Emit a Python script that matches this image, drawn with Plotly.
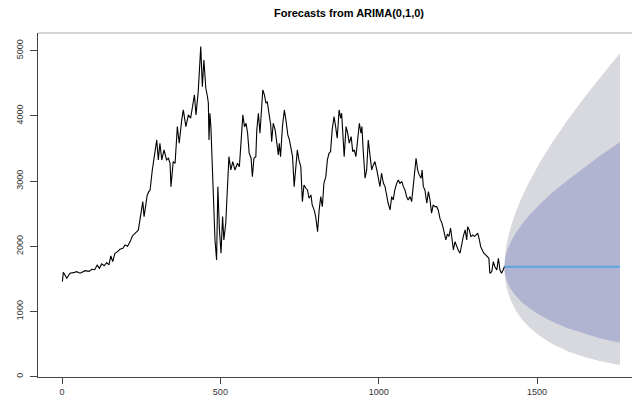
import plotly.graph_objects as go

t = [1, 4, 15, 25, 36, 46, 57, 73, 85, 94, 103, 111, 118, 125, 133, 141, 148, 154, 160, 167,
     175, 183, 192, 199, 207, 215, 222, 230, 236, 241, 246, 252, 255, 259, 263, 266, 269, 274, 278, 285,
     294, 299, 304, 309, 315, 322, 330, 336, 341, 344, 351, 357, 364, 370, 378, 383, 391, 399, 406, 413,
     418, 423, 430, 438, 443, 448, 454, 459, 462, 464, 467, 470, 476, 480, 483, 488, 492, 497, 502, 507,
     511, 517, 522, 527, 533, 539, 546, 554, 560, 565, 571, 576, 581, 586, 591, 597, 601, 606, 612, 615,
     620, 625, 631, 634, 639, 644, 648, 654, 659, 662, 667, 673, 678, 683, 686, 690, 696, 702, 707, 713,
     718, 723, 728, 733, 738, 743, 748, 754, 759, 764, 770, 775, 780, 786, 790, 796, 801, 807, 812, 817,
     822, 827, 833, 838, 843, 848, 853, 859, 864, 869, 875, 880, 883, 888, 891, 897, 902, 907, 913, 918,
     923, 928, 934, 939, 944, 947, 951, 957, 962, 967, 973, 978, 983, 988, 994, 999, 1004, 1009, 1015, 1020,
     1025, 1030, 1036, 1041, 1046, 1051, 1057, 1062, 1067, 1073, 1078, 1083, 1088, 1093, 1099, 1104, 1109, 1115, 1118, 1123,
     1128, 1134, 1137, 1141, 1146, 1152, 1157, 1162, 1167, 1172, 1178, 1183, 1188, 1194, 1199, 1204, 1209, 1212, 1217, 1222,
     1227, 1231, 1236, 1241, 1246, 1251, 1257, 1262, 1267, 1273, 1278, 1281, 1286, 1291, 1297, 1302, 1307, 1313, 1318, 1322,
     1327, 1332, 1338, 1343, 1348, 1351, 1357, 1362, 1367, 1373, 1378, 1383, 1388, 1393, 1397]
price = [1457, 1601, 1509, 1586, 1595, 1610, 1586, 1626, 1615, 1647, 1640, 1713, 1662, 1729, 1700, 1748, 1713, 1851, 1764, 1893,
         1917, 1954, 1969, 2020, 2000, 2071, 2158, 2190, 2224, 2250, 2403, 2560, 2684, 2454, 2600, 2710, 2787, 2837, 2863, 3170,
         3426, 3630, 3324, 3580, 3324, 3477, 3324, 3350, 3273, 2914, 3298, 3273, 3834, 3580, 3937, 4090, 3834, 4014, 3963, 4141,
         4320, 4014, 4371, 5061, 4448, 4857, 4423, 4300, 4193, 3630, 4040, 3834, 3120, 2557, 2097, 1790, 2914, 2250, 1893, 2454,
         2097, 2353, 2914, 3374, 3170, 3298, 3170, 3273, 3221, 3630, 4014, 3834, 3886, 3733, 3426, 3350, 3067, 3350, 3374, 3784,
         4040, 3733, 4090, 4397, 4320, 4193, 4218, 3988, 3860, 3604, 3886, 3784, 3604, 3400, 3580, 3374, 3834, 4090, 3937, 3707,
         3630, 3527, 3374, 2914, 3170, 3477, 3324, 3221, 2684, 2940, 2889, 2863, 2736, 2787, 2633, 2557, 2454, 2224, 2557, 2761,
         2607, 2966, 3067, 3324, 3426, 3451, 3784, 3988, 3834, 3656, 4090, 3963, 4040, 3630, 3374, 3834, 3733, 3580, 3681, 3451,
         3477, 3374, 3604, 3886, 3733, 3834, 3477, 3043, 3170, 3630, 3374, 3170, 3247, 3298, 3170, 3067, 2914, 3120, 2966, 2914,
         2761, 2659, 2557, 2761, 2710, 2863, 2966, 3017, 2966, 2991, 2914, 2863, 2761, 2710, 2761, 2684, 2914, 3170, 3350, 3170,
         3094, 3043, 3170, 2914, 2863, 2659, 2838, 2710, 2506, 2633, 2607, 2607, 2557, 2415, 2365, 2275, 2120, 2097, 2185, 2150,
         2280, 2148, 1943, 2071, 1994, 1943, 1893, 2046, 2148, 2250, 2097, 2301, 2250, 2148, 2173, 2148, 2173, 2199, 2097, 1994,
         1943, 1893, 1867, 1840, 1816, 1586, 1610, 1764, 1687, 1636, 1816, 1636, 1586, 1636, 1687]

# ---- forecast (horizon steps after the last observation) ----
horizon = [0, 1, 3, 6, 10, 20, 35, 55, 80, 110, 150, 200, 250, 300, 365]
fc_mean = [1687] * len(horizon)
hi95 = [1687, 1815, 1912, 2010, 2109, 2297, 2514, 2750, 3002, 3267, 3582, 3939, 4267, 4574, 4960]
lo95 = [1687, 1563, 1476, 1392, 1312, 1170, 1024, 882, 750, 630, 505, 390, 305, 240, 180]
hi80 = [1687, 1768, 1829, 1890, 1951, 2066, 2196, 2336, 2483, 2636, 2815, 3015, 3200, 3380, 3600]
lo80 = [1687, 1607, 1551, 1496, 1442, 1346, 1245, 1143, 1044, 949, 846, 741, 660, 590, 521]

xticks = [0, 500, 1000, 1500]
yticks = [0, 1000, 2000, 3000, 4000, 5000]

fx = [t[-1] + h for h in horizon]

fig = go.Figure()
fig.add_trace(go.Scatter(x=fx + fx[::-1], y=hi95 + lo95[::-1], fill="toself",
                         fillcolor="#D8D8DF", line=dict(width=0), mode="lines",
                         hoverinfo="skip", showlegend=False))
fig.add_trace(go.Scatter(x=fx + fx[::-1], y=hi80 + lo80[::-1], fill="toself",
                         fillcolor="#B0B4D0", line=dict(width=0), mode="lines",
                         hoverinfo="skip", showlegend=False))
fig.add_trace(go.Scatter(x=fx, y=fc_mean, mode="lines",
                         line=dict(color="#5AA6E2", width=2), showlegend=False))
fig.add_trace(go.Scatter(x=t, y=price, mode="lines",
                         line=dict(color="black", width=1.1), showlegend=False))

axis_font = dict(family="Liberation Sans, Arial, sans-serif", size=9, color="#333333")
fig.update_layout(
    width=632, height=398,
    margin=dict(l=38, r=0, t=33, b=21),
    paper_bgcolor="white", plot_bgcolor="white",
    title=dict(text="<b>Forecasts from ARIMA(0,1,0)</b>",
               font=dict(family="Liberation Sans, Arial, sans-serif", size=11, color="black"),
               x=349 / 632, xref="container", xanchor="center",
               y=1 - 13 / 398, yref="container", yanchor="middle"),
    xaxis=dict(range=[-76, 1800], tickvals=xticks, ticks="outside", ticklen=6,
               tickcolor="#444444", showline=True, linecolor="#444444", linewidth=1,
               showgrid=False, zeroline=False, tickfont=axis_font),
    yaxis=dict(range=[-5, 5270], tickvals=yticks, ticks="outside", ticklen=7,
               tickcolor="#444444", showline=True, linecolor="#444444", linewidth=1,
               showgrid=False, zeroline=False, tickangle=-90, tickfont=axis_font,
               ticklabelstandoff=3),
    shapes=[dict(type="line", xref="paper", yref="paper", x0=0, x1=1, y0=1, y1=1,
                 line=dict(color="#AAAAAA", width=1))],
)

fig.write_html("out.html")
